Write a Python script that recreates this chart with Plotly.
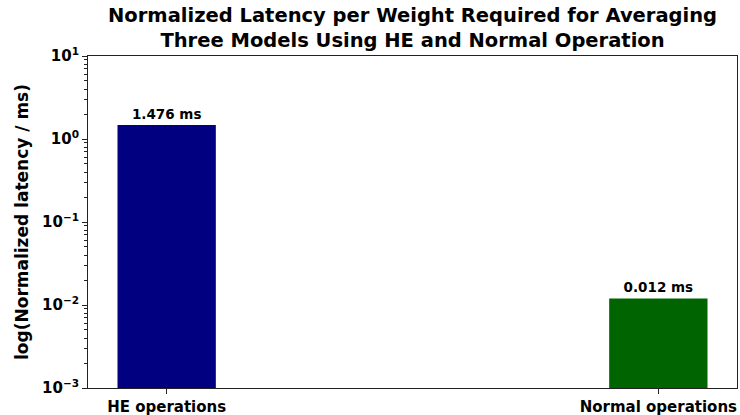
import plotly.graph_objects as go

categories = ["HE operations", "Normal operations"]
latency_ms = [1.476, 0.012]
bar_labels = ["1.476 ms", "0.012 ms"]
bar_colors = ["#000080", "#006400"]
y_tick_values = [0.001, 0.01, 0.1, 1, 10]
y_tick_labels = ["10<sup>−3</sup>", "10<sup>−2</sup>", "10<sup>−1</sup>", "10<sup>0</sup>", "10<sup>1</sup>"]

FONT = "DejaVu Sans"
minor_vals = [m * d for d in [0.001, 0.01, 0.1, 1] for m in range(2, 10)]

fig = go.Figure()
fig.add_trace(go.Bar(
    x=[0, 1], y=latency_ms, width=0.2,
    marker=dict(color=bar_colors, line=dict(width=0)),
    text=bar_labels, textposition="outside", cliponaxis=False,
    textfont=dict(family=FONT, size=13.5, color="black", weight="bold"),
))
# invisible helper trace so the minor-tick axis is drawn
fig.add_trace(go.Scatter(x=[0], y=[1], yaxis="y2", mode="markers",
                         marker=dict(opacity=0), hoverinfo="skip"))

fig.add_annotation(
    text="Normalized Latency per Weight Required for Averaging<br>Three Models Using HE and Normal Operation",
    xref="paper", yref="paper", x=0.5, y=1.0, xanchor="center", yanchor="bottom",
    yshift=2, showarrow=False,
    font=dict(family=FONT, size=19.5, color="black", weight="bold"),
)

fig.update_layout(
    width=740, height=415,
    margin=dict(l=88, r=3, t=56, b=27, autoexpand=False),
    plot_bgcolor="white", paper_bgcolor="white",
    showlegend=False,
    xaxis=dict(
        range=[-0.16, 1.16], tickvals=[0, 1], ticktext=categories,
        showgrid=False, zeroline=False, automargin=False,
        showline=True, linecolor="#222", linewidth=1, mirror=True,
        ticks="outside", ticklen=5, tickcolor="#222",
        tickfont=dict(family=FONT, size=15, color="black", weight="bold"),
    ),
    yaxis=dict(
        type="log", range=[-3, 1], tickvals=y_tick_values, ticktext=y_tick_labels,
        showgrid=False, zeroline=False, automargin=False,
        showline=True, linecolor="#222", linewidth=1, mirror=True,
        ticks="outside", ticklen=5, tickcolor="#222",
        tickfont=dict(family=FONT, size=15, color="black", weight="bold"),
        title=dict(text="log(Normalized latency / ms)", standoff=9,
                   font=dict(family=FONT, size=17, color="black", weight="bold")),
    ),
    yaxis2=dict(
        type="log", range=[-3, 1], overlaying="y", side="left",
        tickvals=minor_vals, ticktext=[""] * len(minor_vals),
        showgrid=False, zeroline=False, showline=False, automargin=False,
        ticks="outside", ticklen=3, tickcolor="#222",
    ),
)

fig.write_html("out.html")
